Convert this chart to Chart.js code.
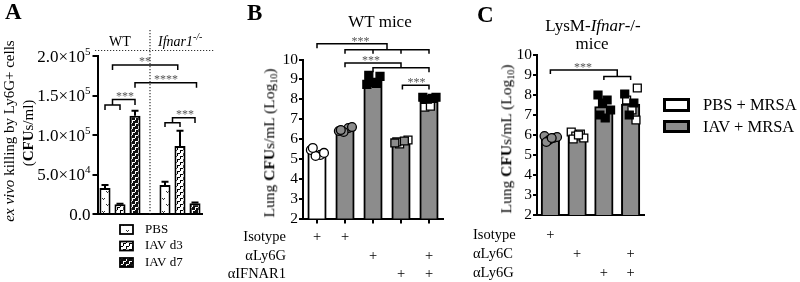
<!DOCTYPE html>
<html><head><meta charset="utf-8">
<script src="https://cdn.jsdelivr.net/npm/chart.js@4.4.1/dist/chart.umd.min.js"></script>
<style>
html,body{margin:0;padding:0;background:#fff}
body{width:800px;height:282px;position:relative;overflow:hidden;font-family:"Liberation Serif","Times New Roman",serif;color:#000}
canvas{position:absolute;top:0}
.t{position:absolute;white-space:nowrap;line-height:1}
.c{transform:translate(-50%,-50%)}
.rot{transform:translate(-50%,-50%) rotate(-90deg)}
.lt{font-weight:bold;font-size:23px}
sub{font-size:10px;vertical-align:-3px;line-height:0}
sup{font-size:10px;vertical-align:6px;line-height:0}
</style></head><body>
<canvas id="cA" width="215" height="282" style="left:0"></canvas>
<canvas id="cB" width="250" height="282" style="left:200px"></canvas>
<canvas id="cC" width="215" height="282" style="left:440px"></canvas>

<div class="t lt" style="left:5px;top:0px">A</div>
<div class="t lt" style="left:247px;top:1px">B</div>
<div class="t lt" style="left:477px;top:2.5px">C</div>

<div class="t c" style="left:120px;top:42px;font-size:14px">WT</div>
<div class="t" style="left:158px;top:35px;font-size:14px"><i>Ifnar1<sup>-/-</sup></i></div>

<div class="t c" style="left:380px;top:21px;font-size:17px">WT mice</div>
<div class="t c" style="left:593px;top:25px;font-size:17px">LysM-<i>Ifnar</i>-/-</div>
<div class="t c" style="left:592px;top:43px;font-size:17px">mice</div>

<div class="t rot" style="left:9px;top:131px;font-size:15px"><i>ex vivo</i> killing by Ly6G+ cells</div>
<div class="t rot" style="left:28px;top:133px;font-size:15px">(<b>CFU</b>s/ml)</div>
<div class="t rot" style="left:269px;top:143px;font-size:15.5px">Lung <b>CFU</b>s/mL (Log<sub>10</sub>)</div>
<div class="t rot" style="left:506px;top:139px;font-size:15.5px">Lung <b>CFU</b>s/mL (Log<sub>10</sub>)</div>

<div style="position:absolute;left:663px;top:98px;width:21px;height:8px;border:3px solid #000;background:#fff"></div>
<div style="position:absolute;left:663px;top:120px;width:21px;height:7px;border:3px solid #000;background:#8c8c8c"></div>
<div class="t" style="left:703px;top:97px;font-size:16.5px">PBS + MRSA</div>
<div class="t" style="left:703px;top:119px;font-size:16.5px">IAV + MRSA</div>

<script>
// ---------------- DATA ----------------
// Panel A
const aGroups = ['WT', 'Ifnar1-/-'];
const aCategories = ['PBS', 'IAV d3', 'IAV d7'];
const aPBS = [33000, 36700];
const aD3 = [12300, 86000];
const aD7 = [124400, 13500];
const aPBSErr = [3800, 4200];
const aD3Err = [800, 19400];
const aD7Err = [6300, 900];
const aTicks = ['0.0', '5.0×10^4', '1.0×10^5', '1.5×10^5', '2.0×10^5'];

// Panel B (WT mice)
const bMeans = [5.36, 6.45, 8.92, 5.85, 7.9];
const bIsotype = ['+', '+', '', '', ''];
const bLy6G = ['', '', '+', '', '+'];
const bIFNAR1 = ['', '', '', '+', '+'];
const bPoints0 = [5.45, 5.2, 5.15, 5.3, 5.55];
const bPoints1 = [6.4, 6.55, 6.35, 6.6, 6.45];
const bPoints2 = [8.75, 8.8, 8.85, 9.15, 9.2];
const bPoints3Gray = [5.8, 5.9];
const bPoints3White = [5.75, 5.95, 5.85];
const bPoints4Black = [8.1, 8.05, 8.0, 8.1];
const bPoints4White = [7.6, 7.65];

// Panel C (LysM-Ifnar-/- mice)
const cMeans = [5.83, 5.97, 7.42, 7.55];
const cIsotype = ['+', '', '', ''];
const cLy6C = ['', '+', '', '+'];
const cLy6G = ['', '', '+', '+'];
const cPoints0 = [5.95, 5.85, 5.75, 5.9, 5.65, 5.85];
const cPoints1 = [6.15, 6.05, 5.95, 5.85, 5.8, 6.0];
const cPoints2 = [8.0, 7.75, 7.6, 7.25, 7.0, 6.85];
const cPoints3Black = [8.05, 7.6, 7.0];
const cPoints3White = [8.35, 7.75, 7.25, 6.75];

// jitter of points within a bar (category units)
const jitter = [-0.22, 0.12, -0.05, 0.25, -0.15, 0.05, 0.2];

// significance brackets (x in category units, y in data units)
const aBrackets = [
  {x1:0.5, x2:2, y:144900, legs:[[0.5,137900],[2,137900]], text:'***', tx:1.33},
  {x1:0, x2:1, y:137900, legs:[[0,131600],[1,131600]]},
  {x1:0.5, x2:4.85, y:188600, legs:[[0.5,182300],[4.85,182300]], text:'**', tx:2.67},
  {x1:2, x2:6.1, y:166200, legs:[[2,159900],[6.1,159900]], text:'****', tx:4.07},
  {x1:4.5, x2:6, y:121900, legs:[[4.5,115600],[6,115200]], text:'***', tx:5.33},
  {x1:4, x2:5, y:115600, legs:[[4,110100],[5,110100]]}
];
const bBrackets = [
  {x1:0, x2:2.5, y:10.79, legs:[[0,10.57],[2.5,10.49]], text:'***', tx:1.55},
  {x1:1, x2:4, y:10.49, legs:[[1,10.29],[2,10.29],[3,10.29],[4,10.29]]},
  {x1:1, x2:3, y:9.83, legs:[[1,9.61],[3,9.58]], text:'***', tx:1.93},
  {x1:2, x2:4, y:9.58, legs:[[2,9.36],[4,9.36]]},
  {x1:3.05, x2:4, y:8.71, legs:[[3.05,8.49],[4,8.49]], text:'***', tx:3.55}
];
const cBrackets = [
  {x1:0, x2:2.5, y:9.25, legs:[[0,9.05],[2.5,8.92]], text:'***', tx:1.22},
  {x1:2, x2:3, y:8.92, legs:[[2,8.75],[3,8.75]]}
];

// ---------------- RENDER ----------------
const SERIF = '"Liberation Serif", "Times New Roman", serif';
Chart.defaults.font.family = SERIF;
Chart.defaults.color = '#000';
const GRAY = '#8c8c8c';

function makePattern(kind){
  const c = document.createElement('canvas');
  if (kind === 'pbs') {
    c.width = 10; c.height = 13;
    const g = c.getContext('2d');
    g.fillStyle = '#fff'; g.fillRect(0,0,10,13);
    g.fillStyle = '#333';
    g.fillRect(2,3,1,1); g.fillRect(4,3,1,1); g.fillRect(3,4,1,1);
    g.fillRect(6,9,1,1); g.fillRect(8,9,1,1); g.fillRect(7,10,1,1);
    return g.createPattern(c,'repeat');
  }
  c.width = 6; c.height = 6;
  const g = c.getContext('2d');
  const bg = kind === 'd3' ? '#fff' : '#111';
  const fg = kind === 'd3' ? '#000' : '#fff';
  g.fillStyle = bg; g.fillRect(0,0,6,6);
  g.fillStyle = fg;
  g.fillRect(0,0,3,1); g.fillRect(0,1,1,2);
  g.fillRect(3,3,3,1); g.fillRect(3,4,1,2);
  return g.createPattern(c,'repeat');
}

function drawBrackets(ctx, xs, ys, list, textOff){
  ctx.save();
  ctx.strokeStyle = '#000'; ctx.lineWidth = 1.5; ctx.setLineDash([]);
  list.forEach(b => {
    const y = ys.getPixelForValue(b.y);
    ctx.beginPath();
    ctx.moveTo(xs.getPixelForValue(b.x1) - 0.75, y);
    ctx.lineTo(xs.getPixelForValue(b.x2) + 0.75, y);
    b.legs.forEach(([lx, ly]) => {
      const px = xs.getPixelForValue(lx);
      ctx.moveTo(px, y); ctx.lineTo(px, ys.getPixelForValue(ly));
    });
    ctx.stroke();
    if (b.text) {
      ctx.fillStyle = '#555'; ctx.font = '12px ' + SERIF;
      ctx.textAlign = 'center'; ctx.textBaseline = 'alphabetic';
      ctx.fillText(b.text, xs.getPixelForValue(b.tx), y + textOff);
    }
  });
  ctx.restore();
}

function build(){
  const pats = {pbs: makePattern('pbs'), d3: makePattern('d3'), d7: makePattern('d7')};

  // ---- Panel A ----
  const aLabels = [], aData = [], aFill = [], aErr = [];
  const aSeries = [[aPBS, aPBSErr, 'pbs'], [aD3, aD3Err, 'd3'], [aD7, aD7Err, 'd7']];
  aGroups.forEach((g, gi) => {
    if (gi > 0) { aLabels.push(''); aData.push(null); aFill.push('#fff'); aErr.push(0); }
    aSeries.forEach(([vals, errs, k], ci) => {
      aLabels.push(g + ' ' + aCategories[ci]);
      aData.push(vals[gi]); aErr.push(errs[gi]); aFill.push(pats[k]);
    });
  });

  const aPlugin = {
    id: 'aExtras',
    afterDatasetsDraw(chart){
      const ctx = chart.ctx, xs = chart.scales.x, ys = chart.scales.y;
      const meta = chart.getDatasetMeta(0);
      ctx.save();
      // y tick labels with superscript exponents
      const right = chart.chartArea.left - 7;
      ys.ticks.forEach((t, i) => {
        const y = ys.getPixelForValue(t.value);
        const [mant, exp] = aTicks[i].split('^');
        ctx.fillStyle = '#000'; ctx.textBaseline = 'alphabetic'; ctx.textAlign = 'right';
        let supW = 0;
        if (exp) {
          ctx.font = '11px ' + SERIF;
          supW = ctx.measureText(exp).width;
          ctx.fillText(exp, right, y - 1.5);
        }
        ctx.font = '17px ' + SERIF;
        ctx.fillText(mant, right - supW, y + 5.5);
      });
      // error bars
      ctx.strokeStyle = '#000'; ctx.lineWidth = 2;
      meta.data.forEach((el, i) => {
        const v = aData[i], e = aErr[i];
        if (v == null || !e) return;
        const yt = ys.getPixelForValue(v + e);
        ctx.beginPath();
        ctx.moveTo(el.x, el.y); ctx.lineTo(el.x, yt);
        ctx.moveTo(el.x - 3.5, yt); ctx.lineTo(el.x + 3.5, yt);
        ctx.stroke();
      });
      drawBrackets(ctx, xs, ys, aBrackets, 0);
      ctx.setLineDash([1.2, 1.8]); ctx.lineWidth = 1.2; ctx.strokeStyle = '#333';
      const xm = xs.getPixelForValue(3);
      ctx.beginPath(); ctx.moveTo(xm, 30); ctx.lineTo(xm, chart.chartArea.bottom); ctx.stroke();
      ctx.beginPath(); ctx.moveTo(95, 50.5); ctx.lineTo(215, 50.5); ctx.stroke();
      ctx.setLineDash([]);
      aSeries.forEach(([, , k], i) => {
        const y = 225 + i * 16.5;
        ctx.fillStyle = pats[k]; ctx.fillRect(120, y, 13, 9);
        ctx.strokeStyle = '#000'; ctx.lineWidth = 1.8; ctx.strokeRect(120, y, 13, 9);
        ctx.fillStyle = '#000'; ctx.font = '13px ' + SERIF;
        ctx.textAlign = 'left'; ctx.textBaseline = 'middle';
        ctx.fillText(aCategories[i], 145, y + 4.5);
      });
      ctx.restore();
    }
  };

  new Chart(document.getElementById('cA'), {
    type: 'bar',
    data: {labels: aLabels, datasets: [{data: aData, backgroundColor: aFill, borderColor: '#000',
      borderWidth: 2, borderSkipped: 'bottom', barPercentage: 0.74, categoryPercentage: 1}]},
    options: {
      responsive: false, animation: false, events: [],
      layout: {padding: {left: 0, top: 56, right: 12.5, bottom: 68}},
      plugins: {legend: {display: false}, tooltip: {enabled: false}},
      scales: {
        x: {ticks: {display: false}, grid: {display: true, drawOnChartArea: false, drawTicks: false},
            border: {color: '#000', width: 2}, afterFit(s){ s.height = 0; }},
        y: {min: 0, max: 200000,
            ticks: {stepSize: 50000, display: false, autoSkip: false},
            grid: {drawOnChartArea: false, color: '#000', lineWidth: 2, tickLength: 5},
            border: {color: '#000', width: 2}, afterFit(s){ s.width = 97.5; }}
      }
    },
    plugins: [aPlugin]
  });

  // ---- Panels B & C ----
  function pts(vals, xi, style, fill, j0){
    return {type: 'scatter', order: 0,
      data: vals.map((v, i) => ({x: xi + jitter[(i + j0) % jitter.length], y: v})),
      pointStyle: style, pointRadius: style === 'rect' ? 5.6 : 4.4,
      backgroundColor: fill, borderColor: '#000', borderWidth: 1.3};
  }

  function condPlugin(brackets, rows, labels, labelX, align, rowY){
    return {
      id: 'cond',
      afterDatasetsDraw(chart){
        const ctx = chart.ctx, xs = chart.scales.x, ys = chart.scales.y;
        drawBrackets(ctx, xs, ys, brackets, 1);
        ctx.save();
        ctx.fillStyle = '#000'; ctx.font = '14.5px ' + SERIF; ctx.textBaseline = 'middle';
        rows.forEach((row, r) => {
          ctx.textAlign = align;
          ctx.fillText(labels[r], labelX, rowY[r]);
          ctx.textAlign = 'center';
          row.forEach((m, i) => { if (m) ctx.fillText(m, xs.getPixelForValue(i), rowY[r]); });
        });
        ctx.restore();
      }
    };
  }

  function panel(id, means, fills, pointSets, pad, axisW, tickMarks, plugin){
    const n = means.length;
    new Chart(document.getElementById(id), {
      type: 'bar',
      data: {datasets: [
        ...pointSets,
        {type: 'bar', order: 1, data: means.map((v, i) => ({x: i, y: v})), backgroundColor: fills,
         borderColor: '#000', borderWidth: 2, borderSkipped: 'bottom', barThickness: 18.5}
      ]},
      options: {
        responsive: false, animation: false, events: [],
        layout: {padding: pad},
        plugins: {legend: {display: false}, tooltip: {enabled: false}},
        scales: {
          x: {type: 'linear', min: -0.5, max: n - 0.5, offset: false,
              ticks: {display: false},
              grid: {display: true, offset: false, drawOnChartArea: false, drawTicks: tickMarks,
                     color: '#000', lineWidth: 2, tickLength: 5},
              border: {color: '#000', width: 2},
              afterBuildTicks(s){ s.ticks = means.map((_, i) => ({value: i})); },
              afterFit(s){ s.height = 0; }},
          y: {min: 2, max: 10,
              ticks: {stepSize: 1, padding: 1, autoSkip: false, font: {size: 15.5}},
              grid: {drawOnChartArea: false, color: '#000', lineWidth: 2, tickLength: 4},
              border: {color: '#000', width: 2}, afterFit(s){ s.width = axisW; }}
        }
      },
      plugins: [plugin]
    });
  }

  panel('cB', bMeans, ['#fff', GRAY, GRAY, GRAY, GRAY], [
    pts(bPoints0, 0, 'circle', '#fff', 0),
    pts(bPoints1, 1, 'circle', GRAY, 0),
    pts(bPoints2, 2, 'rect', '#000', 0),
    pts(bPoints3Gray, 3, 'rect', GRAY, 0),
    pts(bPoints3White, 3, 'rect', '#fff', 2),
    pts(bPoints4Black, 4, 'rect', '#000', 0),
    pts(bPoints4White, 4, 'rect', '#fff', 4)
  ], {left: 0, top: 59.5, right: 7, bottom: 63.5}, 103, true,
    condPlugin(bBrackets, [bIsotype, bLy6G, bIFNAR1], ['Isotype', 'αLy6G', 'αIFNAR1'], 86, 'right', [237.5, 256, 274.5]));

  panel('cC', cMeans, [GRAY, GRAY, GRAY, GRAY], [
    pts(cPoints0, 0, 'circle', GRAY, 0),
    pts(cPoints1, 1, 'rect', '#fff', 0),
    pts(cPoints2, 2, 'rect', '#000', 0),
    pts(cPoints3Black, 3, 'rect', '#000', 0),
    pts(cPoints3White, 3, 'rect', '#fff', 3)
  ], {left: 0, top: 55, right: 11, bottom: 67}, 97, false,
    condPlugin(cBrackets, [cIsotype, cLy6C, cLy6G], ['Isotype', 'αLy6C', 'αLy6G'], 33, 'left', [235.5, 254, 273]));
}

Promise.all([
  document.fonts.load('15px "Liberation Serif"'),
  document.fonts.load('bold 15px "Liberation Serif"')
]).then(build, build);
</script>
</body></html>
